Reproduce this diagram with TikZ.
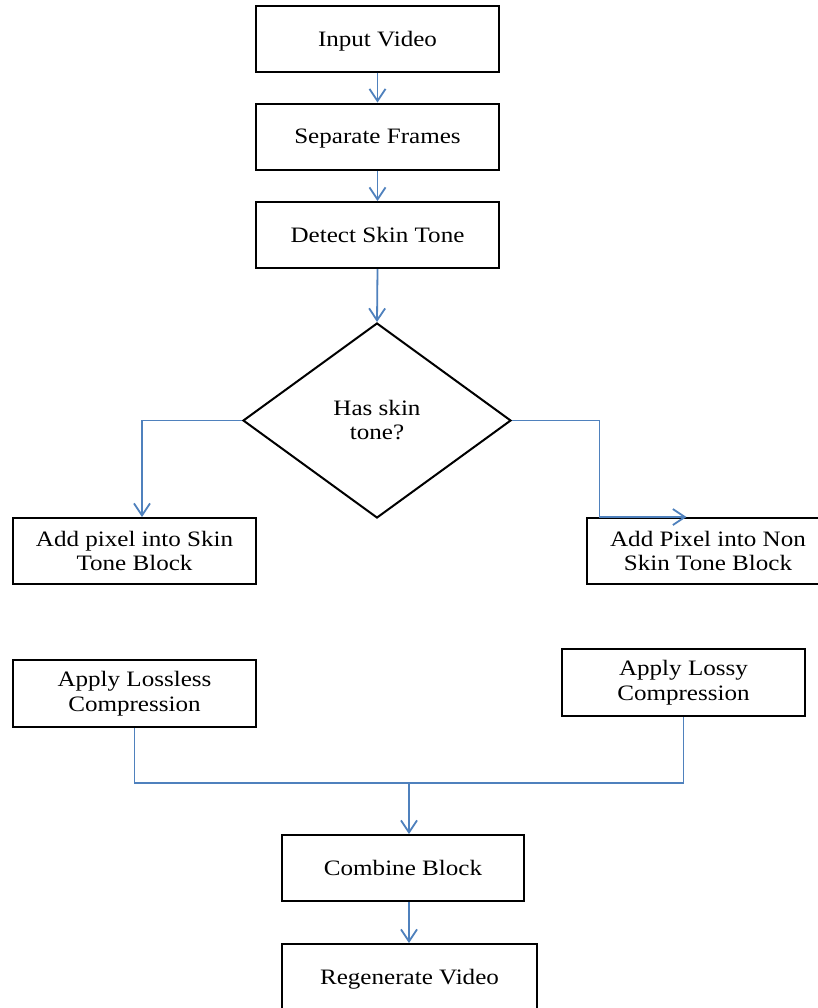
\documentclass[tikz,border=0pt]{standalone}
\usepackage{fontspec}
\setmainfont{Liberation Serif}[FakeStretch=1.14]
\usetikzlibrary{arrows.meta,shapes.geometric}
\definecolor{flowblue}{RGB}{79,129,189}
\tikzset{
  box/.style={draw=black, line width=1pt, rectangle, align=center, inner sep=1pt,
    minimum width=121.5pt, minimum height=33pt, font=\fontsize{11}{12.2}\selectfont},
  onebox/.style={box, text depth=0pt},
  decision/.style={draw=black, line width=1pt, diamond, align=center, inner sep=0pt,
    minimum width=134pt, minimum height=97.5pt, font=\fontsize{11}{12.2}\selectfont},
  conn/.style={draw=flowblue, line width=0.9pt},
  arr/.style={conn, -{Straight Barb[length=6pt,width=8pt,line width=0.9pt]}}
}
\begin{document}
\begin{tikzpicture}[x=0.5pt,y=-0.5pt]
\fill[white] (0,0) rectangle (818,1008);
\useasboundingbox (0,0) rectangle (818,1008);
\node[onebox] (in) at (377.5,38.5) {Input Video};
\node[onebox] (sep) at (377.5,136.5) {Separate Frames};
\node[onebox] (det) at (377.5,235) {Detect Skin Tone};
\node[decision] (dia) at (377,420.5) {};
\node[font=\fontsize{11}{12.2}\selectfont, align=center] (diat) at (377,420) {Has skin\\tone?};
\node[box] (skin) at (134.5,551) {Add pixel into Skin\\Tone Block};
\node[box] (non) at (708,551) {Add Pixel into Non\\Skin Tone Block};
\node[box, minimum height=33.5pt] (lossless) at (134.5,693.5) {Apply Lossless\\Compression};
\node[box, minimum height=33.5pt] (lossy) at (683.5,682.5) {Apply Lossy\\Compression};
\node[onebox, minimum width=121pt] (comb) at (403,868) {Combine Block};
\node[onebox, minimum width=127.5pt] (regen) at (409.5,977) {Regenerate Video};
\coordinate (j) at (409,783);

\draw[arr] (in.south) -- (sep.north);
\draw[arr] (sep.south) -- (det.north);
\draw[arr] (det.south) -- (dia.north);
\draw[arr] (dia.west) -| ([xshift=3.75pt]skin.north);
\draw[arr] (dia.east) -| ([xshift=7pt]non.north west) -- ([xshift=50.5pt]non.north west);
\draw[conn] (lossless.south) |- (j) -| (lossy.south);
\draw[arr] (j) -- (j |- comb.north);
\draw[arr] (j |- comb.south) -- (j |- regen.north);
\end{tikzpicture}
\end{document}
